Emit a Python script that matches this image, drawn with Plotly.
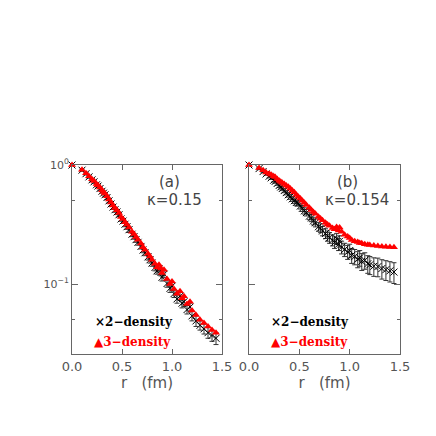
import plotly.graph_objects as go

# distances r (fm), shared by both panels
r = [0.0, 0.10, 0.14, 0.17, 0.20, 0.22, 0.245, 0.26, 0.28, 0.30, 0.315, 0.33, 0.35, 0.37,
     0.39, 0.41, 0.43, 0.45, 0.47, 0.49, 0.51, 0.53, 0.55, 0.57, 0.60, 0.62, 0.64, 0.66,
     0.69, 0.71, 0.73, 0.76, 0.78, 0.80, 0.83, 0.85, 0.87, 0.89, 0.90, 0.92, 0.95, 0.98,
     1.00, 1.02, 1.05, 1.08, 1.10, 1.12, 1.15, 1.18, 1.20, 1.24, 1.28, 1.32, 1.36, 1.40, 1.44]

# panel (a) kappa=0.15
dens3_a = [1.0, 0.912, 0.851, 0.804, 0.759, 0.733, 0.692, 0.676, 0.646, 0.614, 0.592, 0.575,
           0.547, 0.513, 0.484, 0.457, 0.435, 0.417, 0.396, 0.365, 0.351, 0.331, 0.316, 0.299,
           0.275, 0.263, 0.248, 0.236, 0.219, 0.204, 0.194, 0.180, 0.170, 0.160, 0.148, 0.138,
           0.145, 0.135, 0.124, 0.132, 0.110, 0.100, 0.105, 0.091, 0.083, 0.087, 0.076, 0.079,
           0.068, 0.071, 0.060, 0.055, 0.050, 0.047, 0.044, 0.041, 0.039]
dens2_a = [1.0, 0.905, 0.845, 0.795, 0.750, 0.722, 0.682, 0.665, 0.634, 0.602, 0.580, 0.562,
           0.533, 0.500, 0.470, 0.443, 0.421, 0.403, 0.382, 0.352, 0.338, 0.318, 0.303, 0.286,
           0.262, 0.250, 0.236, 0.224, 0.207, 0.193, 0.183, 0.169, 0.160, 0.150, 0.138, 0.129,
           0.134, 0.125, 0.114, 0.121, 0.101, 0.092, 0.096, 0.083, 0.075, 0.079, 0.069, 0.071,
           0.061, 0.064, 0.054, 0.049, 0.045, 0.042, 0.039, 0.037, 0.035]
err2_a = [0.0, 0.02, 0.02, 0.02, 0.02, 0.02, 0.02, 0.02, 0.02, 0.02, 0.02, 0.02,
          0.02, 0.02, 0.02, 0.02, 0.02, 0.02, 0.015, 0.015, 0.015, 0.015, 0.015, 0.015,
          0.012, 0.012, 0.012, 0.012, 0.01, 0.01, 0.01, 0.01, 0.01, 0.009, 0.009, 0.008,
          0.008, 0.008, 0.008, 0.008, 0.007, 0.007, 0.007, 0.006, 0.006, 0.006, 0.006, 0.006,
          0.005, 0.005, 0.005, 0.005, 0.004, 0.004, 0.004, 0.004, 0.004]

# panel (b) kappa=0.154
dens3_b = [1.0, 0.944, 0.902, 0.867, 0.845, 0.828, 0.804, 0.791, 0.762, 0.738, 0.724, 0.708,
           0.692, 0.673, 0.658, 0.634, 0.610, 0.589, 0.562, 0.542, 0.522, 0.501, 0.481, 0.462,
           0.437, 0.419, 0.403, 0.389, 0.368, 0.355, 0.343, 0.327, 0.316, 0.308, 0.295, 0.288,
           0.302, 0.282, 0.299, 0.275, 0.260, 0.251, 0.243, 0.234, 0.229, 0.225, 0.221, 0.220,
           0.216, 0.214, 0.213, 0.211, 0.209, 0.207, 0.206, 0.205, 0.204]
dens2_b = [1.0, 0.933, 0.881, 0.841, 0.804, 0.780, 0.745, 0.728, 0.700, 0.673, 0.653, 0.634,
           0.610, 0.586, 0.562, 0.540, 0.519, 0.501, 0.484, 0.476, 0.452, 0.432, 0.412, 0.398,
           0.372, 0.359, 0.339, 0.327, 0.303, 0.295, 0.279, 0.266, 0.254, 0.245, 0.234, 0.224,
           0.240, 0.216, 0.229, 0.204, 0.195, 0.186, 0.191, 0.174, 0.170, 0.162, 0.166, 0.155,
           0.158, 0.148, 0.145, 0.141, 0.140, 0.135, 0.132, 0.129, 0.126]
err2_b = [0.0, 0.02, 0.02, 0.02, 0.025, 0.025, 0.025, 0.025, 0.025, 0.025, 0.025, 0.025,
          0.025, 0.025, 0.025, 0.025, 0.025, 0.025, 0.025, 0.025, 0.025, 0.025, 0.025, 0.025,
          0.025, 0.025, 0.025, 0.025, 0.025, 0.025, 0.025, 0.025, 0.025, 0.025, 0.025, 0.025,
          0.025, 0.025, 0.025, 0.025, 0.025, 0.025, 0.025, 0.025, 0.025, 0.025, 0.025, 0.025,
          0.025, 0.025, 0.025, 0.025, 0.025, 0.025, 0.025, 0.025, 0.025]

xticks = [0.0, 0.5, 1.0, 1.5]
xticklabels = ["0.0", "0.5", "1.0", "1.5"]
yticks = [0.1, 1.0]
yticklabels = ["10<sup>−1</sup>", "10<sup>0</sup>"]
yminor = [0.05, 0.5]

W = 436
GRAY = "#666666"

fig = go.Figure()

for xa, ya, d2, e2, d3 in [("x", "y", dens2_a, err2_a, dens3_a),
                           ("x2", "y2", dens2_b, err2_b, dens3_b)]:
    fig.add_trace(go.Scatter(
        x=r, y=d2, xaxis=xa, yaxis=ya, mode="markers", cliponaxis=False,
        marker=dict(symbol="x-thin-open", size=7, color="black",
                    line=dict(color="black", width=1)),
        error_y=dict(type="data", array=e2, color="#333333", thickness=1, width=2.5),
        showlegend=False))
    fig.add_trace(go.Scatter(
        x=r, y=d3, xaxis=xa, yaxis=ya, mode="markers", cliponaxis=False,
        marker=dict(symbol="triangle-up", size=7, color="red"),
        showlegend=False))

axfont = dict(family="DejaVu Sans", size=13, color="#555555")
xcommon = dict(range=[0, 1.5], tickvals=xticks, ticktext=xticklabels, ticks="inside",
               ticklen=5, tickcolor=GRAY, showline=True, linecolor=GRAY, linewidth=1,
               mirror="ticks", showgrid=False, zeroline=False, tickfont=axfont,
               automargin=False,
               title=dict(text="r&nbsp;&nbsp;&nbsp;(fm)",
                          font=dict(family="DejaVu Sans", size=15, color="#555555"),
                          standoff=0))
ycommon = dict(type="log", range=[-1.588, 0], tickvals=yticks, ticktext=yticklabels,
               ticks="inside", ticklen=6, tickcolor=GRAY, showline=True, linecolor=GRAY,
               linewidth=1, mirror="ticks", showgrid=False, zeroline=False,
               automargin=False,
               tickfont=dict(family="DejaVu Sans", size=11, color="#555555"),
               minor=dict(tickvals=yminor, ticks="inside", ticklen=3, tickcolor=GRAY))

fig.update_layout(
    template="none",
    width=W, height=W, autosize=False,
    margin=dict(l=0, r=0, t=0, b=0),
    paper_bgcolor="white", plot_bgcolor="white",
    xaxis=dict(domain=[72 / W, 222 / W], anchor="y", **xcommon),
    xaxis2=dict(domain=[249 / W, 400 / W], anchor="y2", **xcommon),
    yaxis=dict(domain=[1 - 354 / W, 1 - 165 / W], anchor="x", **ycommon),
    yaxis2=dict(domain=[1 - 354 / W, 1 - 165 / W], anchor="x2", showticklabels=False,
                **ycommon),
)

labfont = dict(family="DejaVu Sans", size=15, color="#444444")
legfont = dict(family="DejaVu Serif", size=12, color="black")
notes = [
    (169, 182, "(a)", labfont, "center"),
    (174, 200, "κ=0.15", labfont, "center"),
    (347, 182, "(b)", labfont, "center"),
    (357, 200, "κ=0.154", labfont, "center"),
    (93, 322, "<b>×2−density</b>", legfont, "left"),
    (92, 342, "<b>▲3−density</b>", dict(legfont, color="red"), "left"),
    (269, 322, "<b>×2−density</b>", legfont, "left"),
    (269, 342, "<b>▲3−density</b>", dict(legfont, color="red"), "left"),
]
for px, py, txt, fnt, anc in notes:
    fig.add_annotation(x=px / W, y=1 - py / W, xref="paper", yref="paper", text=txt,
                       showarrow=False, font=fnt, xanchor=anc, yanchor="middle")

# drop the default page margin so the figure sits at the window's corner
fig.write_html("out.html", config={"displayModeBar": False},
               post_script="document.body.style.margin='0';")
